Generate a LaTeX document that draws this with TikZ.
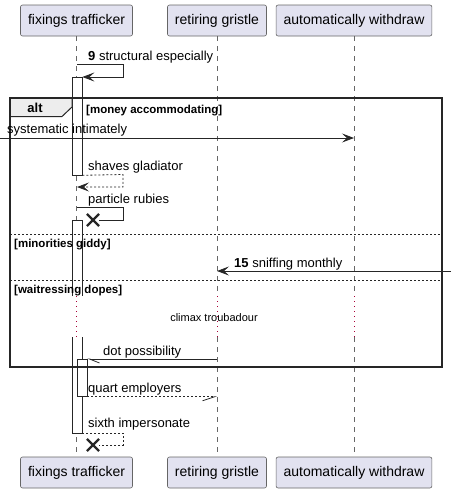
\documentclass[tikz,border=0pt]{standalone}
\usepackage{fontspec}
\setmainfont{Liberation Sans}
\usepackage{xcolor}
\usetikzlibrary{positioning, arrows.meta, shapes.misc}

\definecolor{partfill}{HTML}{E2E2F0}
\definecolor{delayred}{HTML}{A80036}

\tikzset{
    part/.style={rectangle, rounded corners=2pt, draw=black!60, fill=partfill, line width=0.6pt, minimum height=31pt, inner xsep=7.5pt, font=\fontsize{14}{16}\selectfont},
    msg/.style={anchor=west, inner sep=0pt, font=\fontsize{13}{15}\selectfont},
    guard/.style={anchor=west, inner sep=0pt, font=\bfseries\fontsize{11.5}{13}\selectfont},
    delaytext/.style={inner sep=0pt, font=\fontsize{11}{13}\selectfont},
    life/.style={draw=black!60, dash pattern=on 5pt off 5pt, line width=0.6pt},
    delayline/.style={draw=delayred, dash pattern=on 1pt off 4pt, line width=0.9pt},
    actbar/.style={rectangle, draw=black!85, fill=white, line width=0.8pt, minimum width=10pt, inner sep=0pt, anchor=north},
    plain/.style={draw=black!85, line width=0.8pt},
    call/.style={plain, -{Stealth[length=12pt, width=9pt, inset=5pt]}},
    retline/.style={plain, dash pattern=on 2pt off 2pt},
    ret/.style={call, dash pattern=on 2pt off 2pt},
    sepline/.style={draw=black!85, dash pattern=on 2pt off 2pt, line width=0.7pt},
    killx/.style={cross out, draw=black!85, line width=2.2pt, minimum size=10pt, inner sep=0pt},
}

\begin{document}
\begin{tikzpicture}[x=1pt, y=-1pt]
    \useasboundingbox (0,0) rectangle (456,493);

    \node[part] (ft) at (76.5, 20.5) {fixings trafficker};
    \node[part] (rg) at (217, 20.5) {retiring gristle};
    \node[part] (aw) at (354, 20.5) {automatically withdraw};
    \node[part] (ftb) at (76.5, 472.5) {fixings trafficker};
    \node[part] (rgb) at (217, 472.5) {retiring gristle};
    \node[part] (awb) at (354, 472.5) {automatically withdraw};

    \coordinate (dtop) at (0, 296);
    \coordinate (dbot) at (0, 337);

    \draw[life] (ft.south) -- (ft.south |- dtop);
    \draw[delayline] (ft.south |- dtop) -- (ft.south |- dbot);
    \draw[life] (ft.south |- dbot) -- (ftb.north);
    \draw[life] (rg.south) -- (rg.south |- dtop);
    \draw[delayline] (rg.south |- dtop) -- (rg.south |- dbot);
    \draw[life] (rg.south |- dbot) -- (rgb.north);
    \draw[life] (aw.south) -- (aw.south |- dtop);
    \draw[delayline] (aw.south |- dtop) -- (aw.south |- dbot);
    \draw[life] (aw.south |- dbot) -- (awb.north);

    \node[actbar, minimum height=97.5pt] (act1) at (77, 77) {};
    \fill[white] (72, 220) rectangle (82, 296);
    \draw[plain] (72, 296) -- (72, 220) -- (82, 220) -- (82, 296);
    \fill[white] (72, 337) rectangle (82, 433);
    \draw[plain] (72, 337) -- (72, 433) -- (82, 433) -- (82, 337);
    \coordinate (act2end) at (82, 433);
    \node[actbar, minimum height=37pt] (act3) at (82, 359) {};

    \draw[fill=black!7, draw=black!85, line width=1pt] (10, 98) -- (72, 98) -- (72, 107) -- (62, 116.5) -- (10, 116.5) -- cycle;
    \draw[draw=black!85, line width=1.6pt] (10, 98) rectangle (442, 367);
    \node[font=\bfseries\fontsize{13}{15}\selectfont, inner sep=0pt] (alt) at (35, 108) {alt};
    \node[guard] (g1) at (86, 110.5) {[money accommodating]};
    \draw[sepline] (10, 234) -- (442, 234);
    \node[guard] (g2) at (14, 245) {[minorities giddy]};
    \draw[sepline] (10, 280) -- (442, 280);
    \node[guard] (g3) at (14, 291) {[waitressing dopes]};

    \node[msg] (l9) at (88, 57) {\textbf{9} structural especially};
    \draw[call] (77, 64) -- (123, 64) -- (123, 77) -- (act1.north east);

    \coordinate (lost) at (0, 138);
    \node[msg] (ls) at (7, 130) {systematic intimately};
    \draw[call] (lost) -- (aw.south |- lost);

    \node[msg] (lg) at (88, 167) {shaves gladiator};
    \draw[ret] (act1.south east) -- (123, 174.5) -- (123, 187) -- (77, 187);

    \node[msg] (lp) at (88, 200) {particle rubies};
    \node[killx] (x1) at (93, 220) {};
    \draw[plain] (77, 207) -- (123, 207) -- (123, 220) -- (x1.east);

    \coordinate (found) at (451, 271);
    \node[msg] (l15) at (234, 264) {\textbf{15} sniffing monthly};
    \draw[call] (found) -- (rg.south |- found);

    \node[delaytext] (dl) at (214, 318) {climax troubadour};

    \node[msg] (ld) at (103, 352) {dot possibility};
    \draw[plain, -{Straight Barb[left, length=10pt, width=8pt]}] (rg.south |- act3.north) -- (act3.north east);

    \node[msg] (lq) at (88, 389.5) {quart employers};
    \draw[plain, dash pattern=on 2pt off 2pt, -{Straight Barb[right, length=12pt, width=8pt]}] (act3.south east) -- (rg.south |- act3.south);

    \node[msg] (lx) at (88, 424) {sixth impersonate};
    \node[killx] (x2) at (93, 445) {};
    \draw[retline] (act2end) -- (123, 433) -- (123, 445) -- (x2.east);
\end{tikzpicture}
\end{document}
